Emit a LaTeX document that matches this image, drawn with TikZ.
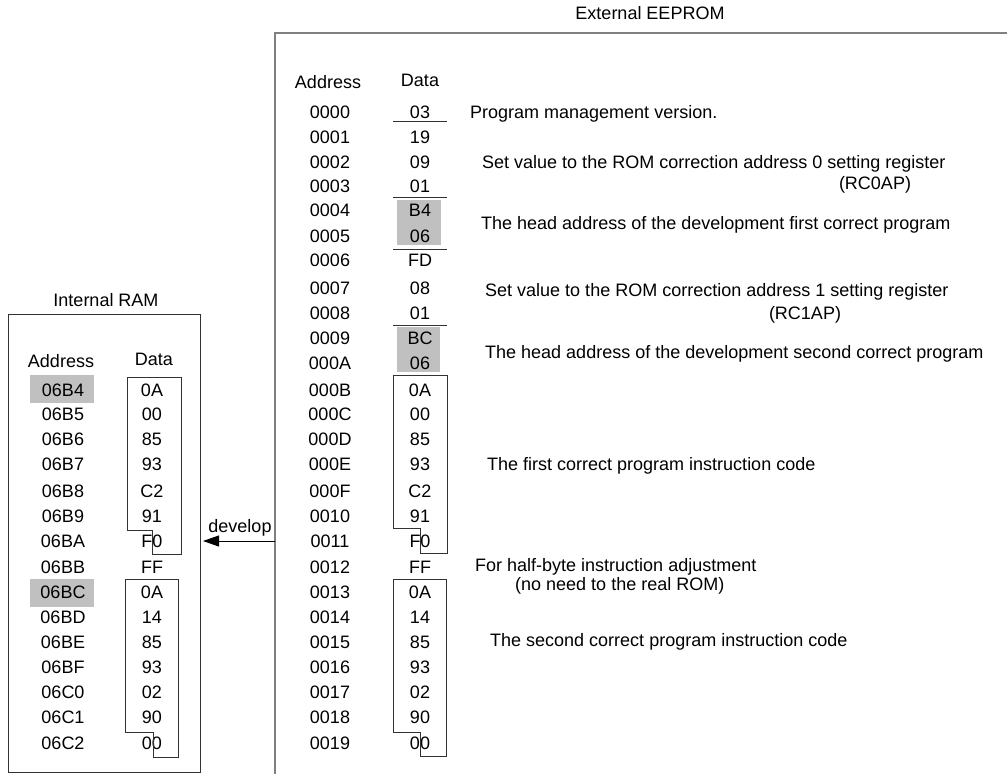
\documentclass[tikz,border=0pt]{standalone}
\usepackage{fontspec}
\setmainfont{Liberation Sans}
\usetikzlibrary{arrows.meta}
\definecolor{hl}{RGB}{192,192,192}
\definecolor{frame}{RGB}{128,128,128}
\definecolor{boxline}{RGB}{50,50,50}
\begin{document}
\begin{tikzpicture}[x=1pt,y=-1pt,
  txt/.style={inner sep=0pt, text height=12.9pt, text depth=0pt, font=\fontsize{18}{21}\selectfont},
  ltxt/.style={txt, anchor=west},
  databox/.style={draw=boxline, line width=1pt},
  sep/.style={draw=boxline, line width=1pt},
  outer/.style={draw=frame, line width=1.5pt},
  ramframe/.style={draw=boxline, line width=1pt}]
\useasboundingbox (0,0) rectangle (1007,774);

% highlights
\fill[hl] (397,200) rectangle (441,245);
\fill[hl] (397,327) rectangle (440,372);
\fill[hl] (30,375) rectangle (94,403);
\fill[hl] (30,579) rectangle (94,607);

% External EEPROM frame
\node[txt] (eetitle) at (650,13) {External EEPROM};
\draw[outer] (1007,33) -- (275,33) -- (275,774);
\node[txt] (eeaddrh) at (328,82) {Address};
\node[txt] (eedatah) at (420,80) {Data};

\foreach \a/\d/\y [count=\i] in {0000/03/112,0001/19/137,0002/09/162,0003/01/186,0004/B4/210,0005/06/236,0006/FD/260,0007/08/288,0008/01/313,0009/BC/338,000A/06/363,000B/0A/390,000C/00/414,000D/85/439,000E/93/464,000F/C2/491,0010/91/516,0011/F0/541,0012/FF/567,0013/0A/592,0014/14/617,0015/85/642,0016/93/667,0017/02/692,0018/90/717,0019/00/743}{
  \node[txt] (ea\i) at (330,\y) {\a};
  \node[txt] (ed\i) at (420,\y) {\d};
}

% separator lines
\foreach \y in {121,197,249,325}{
  \draw[sep] (393,\y) -- (447,\y);
}

% EEPROM program boxes
\draw[databox] (393,375) -- (447,375) -- (447,553) -- (420,553) -- (420,528) -- (393,528) -- cycle;
\draw[databox] (393,579) -- (446,579) -- (446,756) -- (420,756) -- (420,732) -- (393,732) -- cycle;

% descriptions
\node[ltxt] (d1) at (470,112) {Program management version.};
\node[ltxt] (d2) at (482,162) {Set value to the ROM correction address 0 setting register};
\node[txt] (d2b) at (875,183) {(RC0AP)};
\node[ltxt] (d3) at (481,223) {The head address of the development first correct program};
\node[ltxt] (d4) at (485,290) {Set value to the ROM correction address 1 setting register};
\node[txt] (d4b) at (805,313) {(RC1AP)};
\node[ltxt] (d5) at (485,352) {The head address of the development second correct program};
\node[ltxt] (d6) at (487,464) {The first correct program instruction code};
\node[ltxt] (d7) at (475,565) {For half-byte instruction adjustment};
\node[ltxt] (d7b) at (515,584) {(no need to the real ROM)};
\node[ltxt] (d8) at (490,640) {The second correct program instruction code};

% Internal RAM
\node[txt] (ramtitle) at (106,300) {Internal RAM};
\draw[ramframe] (8,314) rectangle (200,772);
\node[txt] (raddrh) at (61,361) {Address};
\node[txt] (rdatah) at (154,359) {Data};

\foreach \a/\d/\y [count=\i] in {06B4/0A/390,06B5/00/414,06B6/85/439,06B7/93/464,06B8/C2/491,06B9/91/516,06BA/F0/541,06BB/FF/567,06BC/0A/592,06BD/14/617,06BE/85/642,06BF/93/667,06C0/02/692,06C1/90/717,06C2/00/743}{
  \node[txt] (ra\i) at (63,\y) {\a};
  \node[txt] (rd\i) at (152,\y) {\d};
}

\draw[databox] (127,377) -- (181,377) -- (181,554) -- (152,554) -- (152,530) -- (127,530) -- cycle;
\draw[databox] (125,579) -- (178,579) -- (178,757) -- (153,757) -- (153,732) -- (125,732) -- cycle;

% develop arrow
\coordinate (devsrc) at (275,541);
\coordinate (devtip) at (203,541);
\draw[line width=1pt, draw=black, -{Triangle[length=16pt,width=11pt]}] (devsrc) -- (devtip);
\node[txt] (devlbl) at (240,526) {develop};
\end{tikzpicture}
\end{document}
